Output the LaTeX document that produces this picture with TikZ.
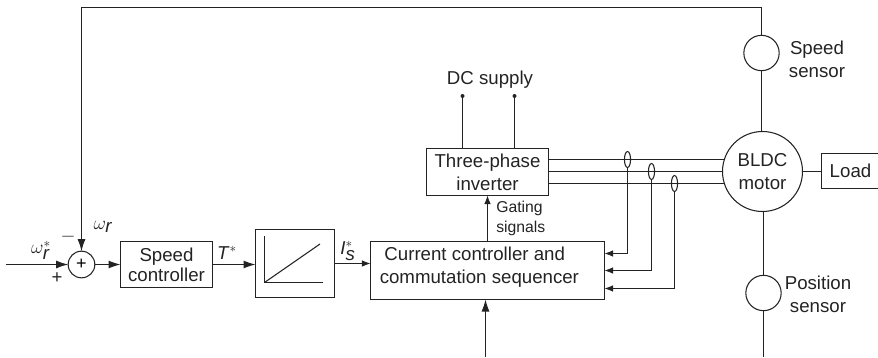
\documentclass[tikz,border=0pt]{standalone}
\usepackage{fontspec}
\setmainfont{Liberation Sans}
\usepackage{tikz}
\usetikzlibrary{arrows.meta,positioning,shapes.geometric}
\definecolor{inkdark}{RGB}{35,35,35}
\tikzset{
  box/.style={
    draw=inkdark,
    line width=0.8pt,
    align=center,
    inner sep=0pt,
    outer sep=0pt,
    text=inkdark,
    font=\fontsize{14}{17}\selectfont
  },
  sensor/.style={circle, draw=inkdark, line width=0.8pt, inner sep=0pt, outer sep=0pt, minimum size=26.5pt},
  tap/.style={ellipse, draw=inkdark, line width=0.8pt, inner sep=0pt, outer sep=0pt, minimum width=4.6pt, minimum height=12pt},
  label/.style={text=inkdark, align=center, inner sep=0pt, font=\fontsize{14}{17}\selectfont},
  wire/.style={draw=inkdark, line width=0.8pt},
  arrow/.style={wire, -{Latex[length=9pt,width=6pt]}},
  smallarrow/.style={wire, -{Latex[length=6.5pt,width=5pt]}},
  dot/.style={circle, fill=inkdark, inner sep=0pt, minimum size=3pt}
}
\begin{document}
\begin{tikzpicture}[x=0.75pt, y=-0.75pt]
    \useasboundingbox (0,0) rectangle (878,357);
    \node[sensor, minimum size=20pt] (sum) at (81.5,264.5) {\fontsize{13.5}{13.5}\selectfont +};
    \node[box, minimum width=69pt, minimum height=34.5pt] (speedctl) at (166.5,264.5) {Speed\\[-2pt]controller};
    \node[box, minimum width=59.25pt, minimum height=51pt] (limiter) at (295,263.5) {};
    \node[box, minimum width=175.5pt, minimum height=43.5pt] (seq) at (487.5,270.5) {};
    \node[label, anchor=west] (seqtext) at (379.5,267.5) {Current controller and\kern7pt\\commutation sequencer};
    \node[box, minimum width=91.5pt, minimum height=35.25pt] (inverter) at (487.5,172) {Three-phase\\inverter};
    \node[box, circle, minimum size=60pt] (motor) at (762.5,171.5) {BLDC\\motor};
    \node[box, minimum width=43.5pt, minimum height=26.25pt] (load) at (850.5,171) {Load};
    \node[sensor] (speedsens) at (761.5,53) {};
    \node[sensor] (possens) at (763.5,293) {};
    \node[tap] (tapa) at (627.5,159.5) {};
    \node[tap] (tapb) at (651.5,171.5) {};
    \node[tap] (tapc) at (674.5,183.5) {};
    \node[dot] (dcleft) at (462.5,96) {};
    \node[dot] (dcright) at (514.5,96) {};
    \node[label] (dclabel) at (490,80) {DC supply};
    \node[label] (speedtext) at (817,59) {Speed\\sensor};
    \node[label] (postext) at (818,294) {Position\\sensor};
    \node[label, align=left, anchor=west, font=\fontsize{11.8}{15}\selectfont] (gating) at (496,218) {Gating\\signals};
    \node[label] (wrefl) at (41,250) {$\omega_{\textit{r}}^{*}$};
    \node[label] (wfbl) at (103,227) {$\omega_{\textit{r}}$};
    \node[label] (minus) at (68,237) {$-$};
    \node[label] (plus) at (57,278) {+};
    \node[label] (tref) at (227,253) {\textit{T}$^{*}$};
    \node[label] (iref) at (348,251) {\textit{I}$_{\textit{s}}^{*}$};
    \coordinate (start) at (6,264.5);
    \coordinate (top) at (400,7.5);
    \coordinate (posend) at (763.5,357);
    \coordinate (seqend) at (485.5,357);
    \coordinate (fba) at (604.5,253.5);
    \coordinate (fbb) at (604.5,270.5);
    \coordinate (fbc) at (604.5,288.5);
    \draw[arrow] (start) -- (sum);
    \draw[arrow] (sum) -- (speedctl);
    \draw[arrow] (speedsens.north) |- (top) -| (sum.north);
    \draw[arrow] (speedctl.east) -- (limiter.west |- speedctl.east);
    \draw[smallarrow] (limiter) -- (seq.west |- limiter);
    \draw[smallarrow] (seq.north -| inverter) -- (inverter.south);
    \draw[arrow] (seqend) -- (seq.south -| seqend);
    \draw[wire] (dcleft) -- (dcleft |- inverter.north);
    \draw[wire] (dcright) -- (dcright |- inverter.north);
    \draw[wire] (inverter.east |- motor.162.54) -- (motor.162.54);
    \draw[wire] (inverter.east |- motor.180) -- (motor.180);
    \draw[wire] (inverter.east |- motor.197.46) -- (motor.197.46);
    \draw[smallarrow] (tapa.south) |- (fba);
    \draw[smallarrow] (tapb.south) |- (fbb);
    \draw[smallarrow] (tapc.south) |- (fbc);
    \draw[wire] (speedsens.south) -- (motor.north -| speedsens);
    \draw[wire] (motor.south -| possens) -- (possens.north);
    \draw[wire] (possens.south) -- (posend);
    \draw[wire] (motor.east) -- (load.west |- motor.east);
    \draw[wire, line width=1pt] (264.5,236) -- (264.5,282.5);
    \draw[wire] (264.5,282.5) -- (323,282.5);
    \draw[wire] (264.5,282.5) -- (320,244);
\end{tikzpicture}
\end{document}
